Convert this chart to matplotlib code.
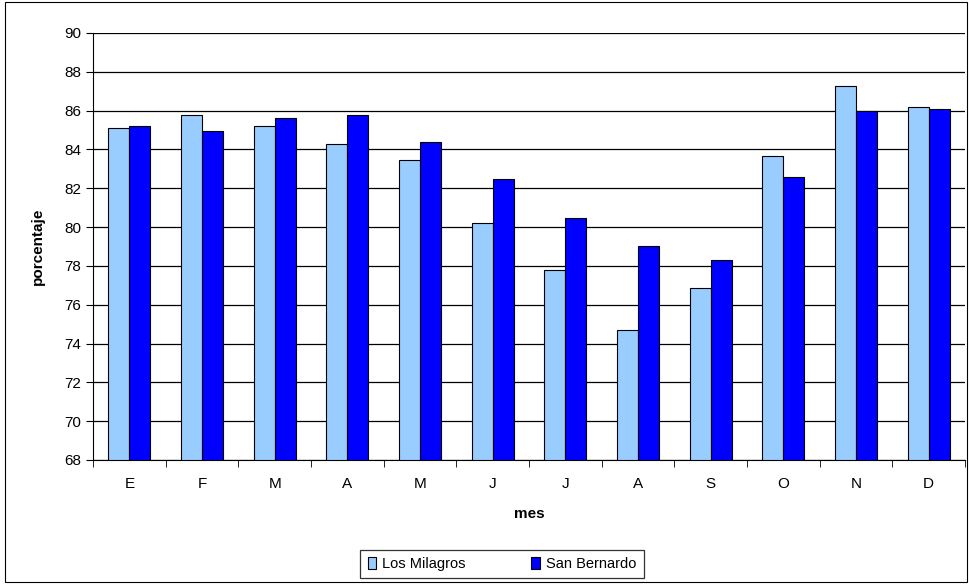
import numpy as np
import matplotlib.pyplot as plt
from matplotlib.patches import Rectangle

plt.rcParams['font.family'] = ['Liberation Sans', 'DejaVu Sans']

# Data
meses = ['E', 'F', 'M', 'A', 'M', 'J', 'J', 'A', 'S', 'O', 'N', 'D']
los_milagros = [85.1, 85.75, 85.2, 84.3, 83.45, 80.2, 77.8, 74.7, 76.85, 83.65, 87.25, 86.2]
san_bernardo = [85.2, 84.95, 85.6, 85.8, 84.4, 82.5, 80.45, 79.05, 78.3, 82.6, 86.0, 86.1]

fig = plt.figure(figsize=(9.69, 5.84), dpi=100)
ax = fig.add_axes([93/969, 1 - 460/584, (965 - 93)/969, (460 - 33)/584])

x = np.arange(len(meses))
w = 0.29
base = 68
ax.bar(x - w/2, np.array(los_milagros) - base, w, bottom=base, color='#99CCFF',
       edgecolor='black', linewidth=0.8, label='Los Milagros', zorder=3)
ax.bar(x + w/2, np.array(san_bernardo) - base, w, bottom=base, color='#0000FF',
       edgecolor='black', linewidth=0.8, label='San Bernardo', zorder=3)

ax.set_xlim(-0.5, len(meses) - 0.5)
ax.set_ylim(68, 90)
ax.set_yticks(np.arange(68, 91, 2))
ax.yaxis.grid(True, color='black', linewidth=0.9, zorder=0)
ax.set_xticks(x)
ax.set_xticklabels(meses, fontsize=11)
ax.tick_params(axis='x', length=0, pad=12)
ax.set_xticks(np.arange(-0.5, len(meses), 1), minor=True)
ax.tick_params(axis='x', which='minor', length=5, direction='out')
ax.tick_params(axis='y', labelsize=11, length=5, direction='out')

for s in ['top', 'right']:
    ax.spines[s].set_visible(False)

ax.set_xlabel('mes', fontsize=11, fontweight='bold', labelpad=12)
ax.set_ylabel('porcentaje', fontsize=11, fontweight='bold', labelpad=14)

leg = fig.legend(loc='center', bbox_to_anchor=(502/969, 1 - 564/584), ncol=2,
                 fontsize=10.5, frameon=True, fancybox=False, edgecolor='black',
                 handlelength=0.6, handleheight=0.9, handletextpad=0.4,
                 columnspacing=4.5, borderpad=0.5, borderaxespad=0)
leg.get_frame().set_linewidth(0.9)
# pad the legend box horizontally a bit
for t in leg.get_texts():
    t.set_text(t.get_text())

fig.patches.append(Rectangle((5/969, 2/584), 962/969, 580/584, transform=fig.transFigure,
                             fill=False, edgecolor='black', linewidth=0.8))

fig.savefig('out.png', dpi=100)
